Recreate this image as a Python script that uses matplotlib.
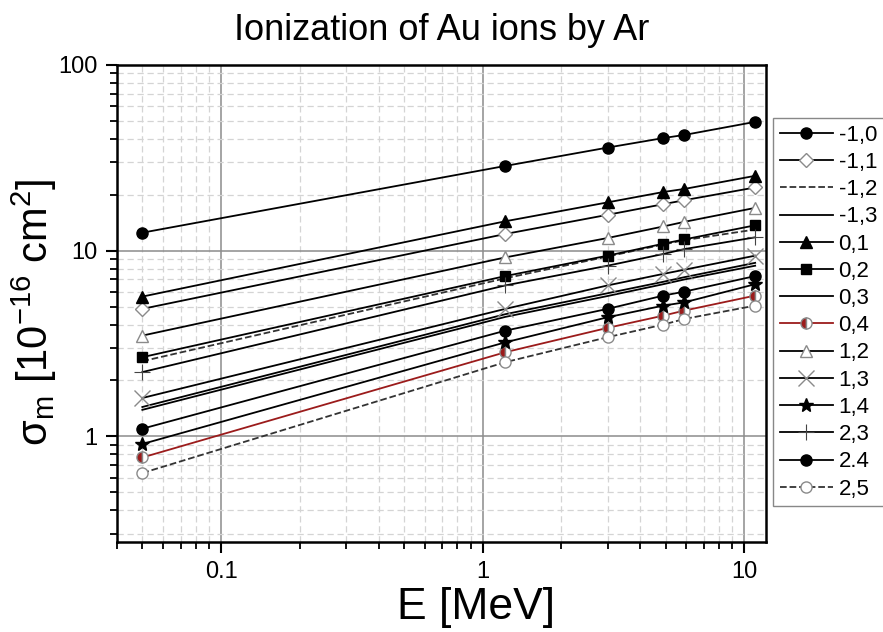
import matplotlib.pyplot as plt
from matplotlib.ticker import FixedLocator, NullFormatter

plt.rcParams['font.family'] = ['Liberation Sans', 'DejaVu Sans']
plt.rcParams['mathtext.fontset'] = 'custom'
plt.rcParams['mathtext.rm'] = 'Liberation Sans'
plt.rcParams['mathtext.it'] = 'Liberation Sans:italic'

# energies (MeV) where the points sit
E = [0.05, 1.22, 3.0, 4.9, 5.9, 11.0]

# cross sections, 1e-16 cm^2
s_m10 = [12.5, 28.6, 35.9, 40.4, 42.0, 49.4]
s_m11 = [4.86, 12.3, 15.6, 17.8, 18.7, 21.9]
s_m12 = [2.54, 7.1, 9.3, 10.8, 11.4, 13.0]
s_m13 = [1.39, 4.4, 5.7, 6.6, 7.0, 8.3]
s_01 = [5.66, 14.4, 18.2, 20.7, 21.5, 25.3]
s_02 = [2.67, 7.3, 9.4, 10.9, 11.5, 13.7]
s_03 = [1.44, 4.55, 5.9, 6.8, 7.2, 8.6]
s_04 = [0.77, 2.84, 3.84, 4.47, 4.76, 5.73]
s_12 = [3.49, 9.2, 11.7, 13.5, 14.3, 17.0]
s_13 = [1.61, 4.86, 6.5, 7.5, 7.9, 9.4]
s_14 = [0.91, 3.21, 4.38, 5.06, 5.27, 6.6]
s_23 = [2.22, 6.5, 8.3, 9.6, 10.2, 11.8]
s_24 = [1.10, 3.71, 4.86, 5.73, 6.02, 7.3]
s_25 = [0.635, 2.51, 3.42, 4.0, 4.29, 5.06]

x_ticks = [0.1, 1, 10]
x_ticklabels = ['0.1', '1', '10']
y_ticks = [1, 10, 100]
y_ticklabels = ['1', '10', '100']

fig = plt.figure(figsize=(8.83, 6.32), dpi=100)
ax = fig.add_axes([0.1325, 0.1424, 0.735, 0.7548])
ax.set_xscale('log')
ax.set_yscale('log')

red = '#9b1b1b'
gr = '#8a8a8a'
lw = 1.3
ms = 8

ax.plot(E, s_m10, '-', color='k', lw=lw, marker='o', ms=ms, mfc='k', mec='k', label='-1,0')
ax.plot(E, s_m11, '-', color='k', lw=lw, marker='D', ms=ms - 1, mfc='white', mec=gr, label='-1,1')
ax.plot(E, s_m12, '--', color='#333333', lw=lw, label='-1,2')
ax.plot(E, s_m13, '-', color='k', lw=lw, label='-1,3')
ax.plot(E, s_01, '-', color='k', lw=lw, marker='^', ms=ms + 1, mfc='k', mec='k', label='0,1')
ax.plot(E, s_02, '-', color='k', lw=lw, marker='s', ms=ms - 0.5, mfc='k', mec='k', label='0,2')
ax.plot(E, s_03, '-', color='k', lw=lw, label='0,3')
ax.plot(E, s_04, '-', color=red, lw=lw, marker='o', ms=ms, fillstyle='left',
        mfc=red, mfcalt='white', mec=gr, label='0,4')
ax.plot(E, s_12, '-', color='k', lw=lw, marker='^', ms=ms + 1, mfc='white', mec=gr, label='1,2')
ax.plot(E, s_13, '-', color='k', lw=lw, marker='x', ms=ms + 3, mec=gr, mew=1.0, label='1,3')
ax.plot(E, s_14, '-', color='k', lw=lw, marker='*', ms=ms + 2, mfc='k', mec='k', label='1,4')
ax.plot(E, s_23, '-', color='k', lw=lw, marker='+', ms=ms + 3, mec='#444444', mew=0.8, label='2,3')
ax.plot(E, s_24, '-', color='k', lw=lw, marker='o', ms=ms, mfc='k', mec='k', label='2.4')
ax.plot(E, s_25, '--', color='#333333', lw=lw, marker='o', ms=ms, mfc='white', mec=gr, label='2,5')

ax.set_xlim(0.04, 12.1)
ax.set_ylim(0.27, 100)

ax.xaxis.set_major_locator(FixedLocator(x_ticks))
ax.set_xticklabels(x_ticklabels)
ax.yaxis.set_major_locator(FixedLocator(y_ticks))
ax.set_yticklabels(y_ticklabels)
ax.xaxis.set_minor_formatter(NullFormatter())
ax.yaxis.set_minor_formatter(NullFormatter())

ax.grid(True, which='minor', color='#d4d4d4', ls=(0, (5, 3)), lw=0.9)
ax.grid(True, which='major', color='#8c8c8c', ls='-', lw=1.1)
ax.set_axisbelow(True)

ax.tick_params(which='major', direction='out', length=8, width=1.5, labelsize=17, pad=6)
ax.tick_params(which='minor', direction='out', length=5, width=1.3)
for sp in ax.spines.values():
    sp.set_linewidth(1.8)

ax.set_xlabel('E [MeV]', fontsize=32)
ax.xaxis.set_label_coords(0.5 + 34 / 649, -0.094)
ax.set_ylabel('σ$_{\\rm m}$ [10$^{-16}$ cm$^2$]', fontsize=30)
ax.yaxis.set_label_coords(-0.09, 0.482)
fig.text(0.5, 0.951, 'Ionization of Au ions by Ar', fontsize=26, ha='center', va='center')

leg = ax.legend(loc='upper left', bbox_to_anchor=(773 / 883, 1 - 118 / 632),
                bbox_transform=fig.transFigure, fontsize=16, handlelength=2.4,
                labelspacing=0.28, handletextpad=0.25, borderpad=0.3, borderaxespad=0,
                fancybox=False, edgecolor='#888888', framealpha=1)
leg.get_frame().set_linewidth(1.0)

plt.savefig('out.png', dpi=100)
